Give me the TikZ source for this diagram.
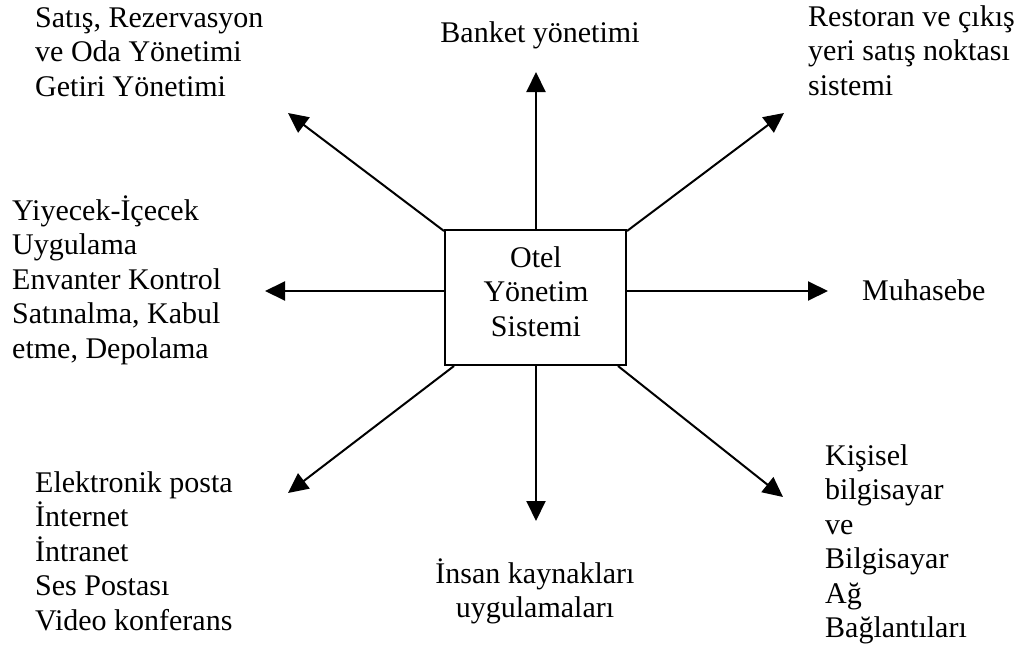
\documentclass[tikz,border=0pt]{standalone}
\usepackage{fontspec}
\setmainfont{Liberation Serif}
\usetikzlibrary{arrows.meta,calc}
% fixed-size line strut (26pt above, 8.5pt below the baseline) for a regular baseline grid
\newcommand\lnstrut{\rule[-8.5pt]{0pt}{34.5pt}}
\begin{document}
\begin{tikzpicture}[x=1pt,y=-1pt,
  every node/.style={font=\fontsize{30}{34.5}\selectfont},
  label/.style={anchor=north west,inner sep=0pt,align=left},
  clabel/.style={anchor=north,inner sep=0pt,align=center},
  link/.style={line width=2pt,-{Triangle[length=20pt,width=19pt]}},
  hub/.style={draw,line width=2pt,minimum width=181pt,minimum height=135pt,inner sep=0pt,align=center}]
\useasboundingbox (0,0) rectangle (1018,648);

% central system box
\node[hub] (box) at (535.5,297.5) {};
\node[clabel] (boxtext) at (536,241) {\lnstrut Otel\\\lnstrut Yönetim\\\lnstrut Sistemi};

% surrounding applications
\node[label] (rooms) at (35,1) {\lnstrut Satış, Rezervasyon\\\lnstrut ve Oda Yönetimi\\\lnstrut Getiri Yönetimi};
\node[clabel] (banquet) at (540,16) {\lnstrut Banket yönetimi};
\node[label] (pos) at (808,0) {\lnstrut Restoran ve çıkış\\\lnstrut yeri satış noktası\\\lnstrut sistemi};
\node[label] (food) at (12,194) {\lnstrut Yiyecek-İçecek\\\lnstrut Uygulama\\\lnstrut Envanter Kontrol\\\lnstrut Satınalma, Kabul\\\lnstrut etme, Depolama};
\node[label] (acct) at (862,274) {\lnstrut Muhasebe};
\node[label] (comm) at (35,466) {\lnstrut Elektronik posta\\\lnstrut İnternet\\\lnstrut İntranet\\\lnstrut Ses Postası\\\lnstrut Video konferans};
\node[clabel] (hr) at (535,557) {\lnstrut İnsan kaynakları\\\lnstrut uygulamaları};
\node[label] (pc) at (825,439) {\lnstrut Kişisel\\\lnstrut bilgisayar\\\lnstrut ve\\\lnstrut Bilgisayar\\\lnstrut Ağ\\\lnstrut Bağlantıları};

% arrow tips
\coordinate (tUL) at (288,113);
\coordinate (tU)  at (536,72);
\coordinate (tUR) at (784,113);
\coordinate (tL)  at (265,291);
\coordinate (tR)  at (828,291);
\coordinate (tDL) at (288,493);
\coordinate (tD)  at (536,521);
\coordinate (tDR) at (783,497);

% connectors from the box
\draw[link] ($(box.north west)+(0,2)$) -- (tUL);
\draw[link] ($(box.north)+(0.5,0)$) -- (tU);
\draw[link] ($(box.north east)+(0,2)$) -- (tUR);
\draw[link] ($(box.west)+(0,-6.5)$) -- (tL);
\draw[link] ($(box.east)+(0,-6.5)$) -- (tR);
\draw[link] ($(box.south west)+(10,0)$) -- (tDL);
\draw[link] ($(box.south)+(0.5,0)$) -- (tD);
\draw[link] ($(box.south east)+(-9,0)$) -- (tDR);
\end{tikzpicture}
\end{document}
